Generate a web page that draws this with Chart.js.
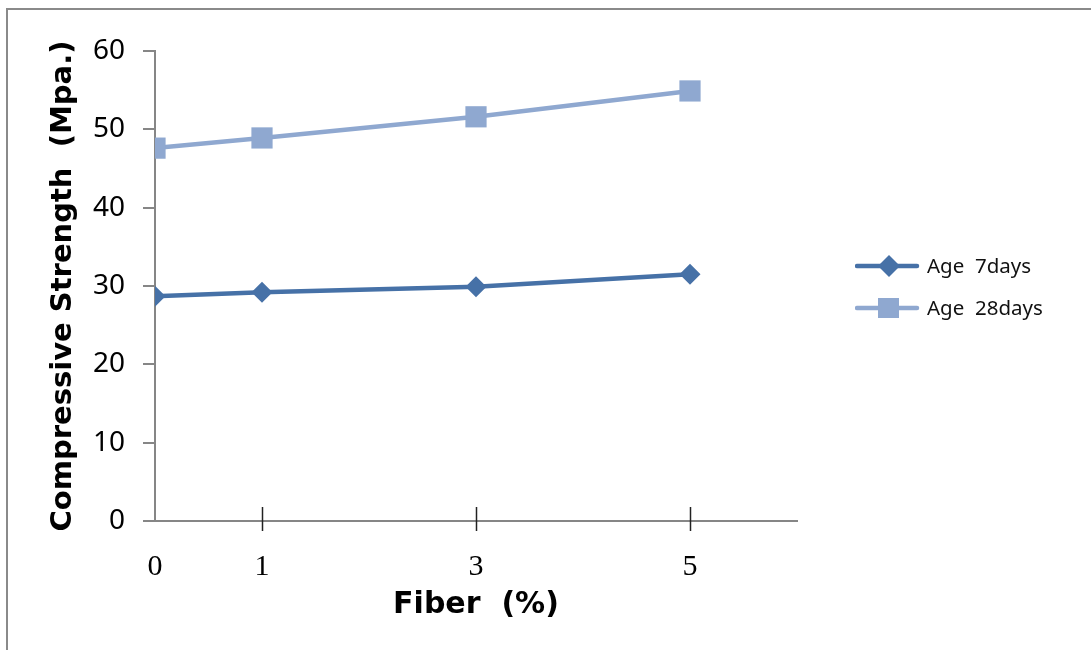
<!DOCTYPE html>
<html>
<head>
<meta charset="utf-8">
<script src="https://cdn.jsdelivr.net/npm/chart.js@4"></script>
<style>
  html, body { margin: 0; padding: 0; background: #fff; overflow: hidden; }
  #wrap { position: relative; width: 1091px; height: 650px; }
  #frame { position: absolute; left: 6px; top: 8px; width: 1200px; height: 800px; border: 2px solid #8a8a8a; }
  #chart { position: absolute; left: 0; top: 0; }
  .leg { position: absolute; left: 855px; height: 24px; font-family: "Noto Sans", sans-serif; font-size: 20.5px; color: #111; white-space: pre; }
  .leg svg { position: absolute; left: 0; top: 0; }
  .leg span { position: absolute; left: 72px; top: -3px; }
</style>
</head>
<body>
<div id="wrap">
  <div id="frame"></div>
  <canvas id="chart" width="1091" height="650"></canvas>
  <div id="legend"></div>
</div>
<script>
// Fiber content (%) and compressive strength (MPa)
const fiber = [0, 1, 3, 5];
const age7 = [28.7, 29.2, 29.9, 31.5];
const age28 = [47.6, 48.9, 51.6, 54.9];
const xTicks = [0, 1, 3, 5];
const seriesNames = ['Age  7days', 'Age  28days'];

const col7 = '#4671a7';
const col28 = '#8fa8d0';
const axisCol = '#868686';

// tick marks on the x axis cross the axis line
const crossTicks = {
    id: 'crossTicks',
    afterDraw(chart) {
        const x = chart.scales.x, y = chart.scales.y;
        const ctx = chart.ctx;
        const y0 = y.getPixelForValue(0);
        ctx.save();
        ctx.strokeStyle = '#222';
        ctx.lineWidth = 1.5;
        xTicks.forEach(v => {
            if (v === 0) return;
            const px = Math.round(x.getPixelForValue(v)) + 0.5;
            ctx.beginPath();
            ctx.moveTo(px, y0 - 14);
            ctx.lineTo(px, y0 + 10);
            ctx.stroke();
        });
        ctx.restore();
    }
};

const chart = new Chart(document.getElementById('chart'), {
    type: 'line',
    data: {
        datasets: [{
            label: seriesNames[0],
            data: fiber.map((f, i) => ({x: f, y: age7[i]})),
            borderColor: col7,
            backgroundColor: col7,
            borderWidth: 4.5,
            pointStyle: 'rectRot',
            pointRadius: 10.5,
            pointBorderWidth: 0,
            tension: 0
        }, {
            label: seriesNames[1],
            data: fiber.map((f, i) => ({x: f, y: age28[i]})),
            borderColor: col28,
            backgroundColor: col28,
            borderWidth: 4.5,
            pointStyle: 'rect',
            pointRadius: 15,
            pointBorderWidth: 0,
            tension: 0
        }]
    },
    options: {
        responsive: false,
        animation: false,
        layout: { padding: { left: 0, right: 294, top: 51, bottom: 0 } },
        plugins: {
            legend: { display: false },
            tooltip: { enabled: false }
        },
        scales: {
            x: {
                type: 'linear',
                min: 0,
                max: 6,
                afterBuildTicks: s => { s.ticks = xTicks.map(v => ({value: v})); },
                afterFit: s => { s.height = 129; },
                grid: { display: false },
                border: { display: true, color: axisCol, width: 2 },
                ticks: {
                    padding: 20,
                    color: '#000',
                    font: { family: '"Liberation Serif", serif', size: 30 }
                },
                title: {
                    display: true,
                    text: 'Fiber  (%)',
                    color: '#000',
                    font: { family: '"DejaVu Sans", sans-serif', size: 30, weight: 'bold' },
                    padding: { top: 0, bottom: 27 }
                }
            },
            y: {
                min: 0,
                max: 60,
                afterFit: s => { s.width = 155; },
                ticks: {
                    stepSize: 10,
                    padding: 18,
                    color: '#000',
                    font: { family: '"Noto Sans", sans-serif', size: 28 }
                },
                grid: { drawOnChartArea: false, tickLength: 12, color: axisCol, lineWidth: 2 },
                border: { display: true, color: axisCol, width: 2 },
                title: {
                    display: true,
                    text: 'Compressive Strength  (Mpa.)',
                    color: '#000',
                    font: { family: '"DejaVu Sans", sans-serif', size: 29, weight: 'bold' },
                    padding: { top: 46, bottom: 0 }
                }
            }
        }
    },
    plugins: [crossTicks]
});

// legend: line with marker, then name
const legend = document.getElementById('legend');
const legendTops = [254, 296];
chart.data.datasets.forEach((ds, i) => {
    const d = document.createElement('div');
    d.className = 'leg';
    d.style.top = legendTops[i] + 'px';
    const marker = ds.pointStyle === 'rect'
        ? `<rect x="23" y="2" width="21" height="20" fill="${ds.borderColor}"/>`
        : `<polygon points="34,1 45,12 34,23 23,12" fill="${ds.borderColor}"/>`;
    d.innerHTML = `<svg width="66" height="24"><line x1="2" y1="12" x2="62" y2="12" stroke="${ds.borderColor}" stroke-width="4.5" stroke-linecap="round"/>${marker}</svg><span>${ds.label}</span>`;
    legend.appendChild(d);
});
</script>
</body>
</html>
